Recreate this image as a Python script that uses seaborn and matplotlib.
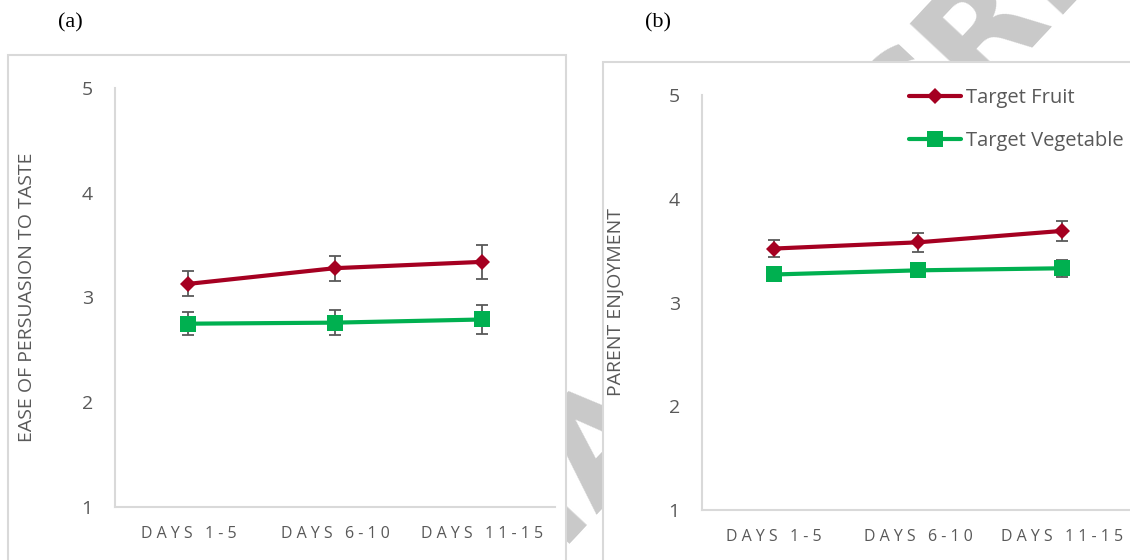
"""
Fruit / vegetable tasting: ease of persuasion and parent enjoyment over days
"""

import pandas as pd
import matplotlib.pyplot as plt
import seaborn as sns
from matplotlib.patches import Rectangle

# data
periods = ["DAYS 1-5", "DAYS 6-10", "DAYS 11-15"]
series = ["Target Fruit", "Target Vegetable"]

ease_fruit = [3.13, 3.28, 3.34]
ease_fruit_err = [0.12, 0.12, 0.16]
ease_veg = [2.75, 2.76, 2.79]
ease_veg_err = [0.11, 0.12, 0.14]

enjoy_fruit = [3.52, 3.58, 3.69]
enjoy_fruit_err = [0.08, 0.09, 0.10]
enjoy_veg = [3.27, 3.31, 3.33]
enjoy_veg_err = [0.04, 0.05, 0.08]

y_ticks = [1, 2, 3, 4, 5]

FRUIT = "#A50021"
VEG = "#00B050"
GREY = "#595959"
FRAME = "#D9D9D9"

sns.set_theme(style="white")
plt.rcParams['font.family'] = ['Open Sans', 'DejaVu Sans']


def spaced(label):
    # Excel-style wide character spacing
    return " ".join(label)


def make_df(fruit, fruit_err, veg, veg_err):
    rows = []
    for name, vals, errs in [(series[0], fruit, fruit_err), (series[1], veg, veg_err)]:
        for p, v, e in zip(periods, vals, errs):
            rows.append({'period': p, 'value': v, 'err': e, 'food': name})
    return pd.DataFrame(rows)


def draw_panel(ax, df, ylabel, label_x):
    styles = {series[0]: ('D', 8.5, FRUIT), series[1]: ('s', 12, VEG)}
    for name in series:
        sub = df[df['food'] == name]
        marker, ms, color = styles[name]
        pos = [periods.index(p) for p in sub['period']]
        ax.errorbar(pos, sub['value'], yerr=sub['err'], fmt='none',
                    ecolor=GREY, elinewidth=1.3, capsize=4, capthick=1.3, zorder=2)
        sns.lineplot(data=sub, x='period', y='value', ax=ax, color=color,
                     marker=marker, markersize=ms, markeredgewidth=0,
                     linewidth=3, label=name, zorder=3, legend=False)

    ax.set_xlim(-0.5, 2.5)
    ax.set_ylim(1, 5)
    ax.set_yticks(y_ticks)
    ax.set_yticklabels([str(t) for t in y_ticks], fontsize=14, color=GREY)
    ax.set_xticks(range(len(periods)))
    ax.set_xticklabels([spaced(p) for p in periods], fontsize=11.5, color=GREY)
    ax.tick_params(axis='y', length=0, pad=16)
    ax.tick_params(axis='x', length=0, pad=14)
    ax.set_xlabel('')
    ax.set_ylabel(ylabel, fontsize=14, color=GREY)
    ax.yaxis.set_label_coords(label_x, 0.5)
    for side in ['top', 'right']:
        ax.spines[side].set_visible(False)
    for side in ['left', 'bottom']:
        ax.spines[side].set_color(FRAME)
        ax.spines[side].set_linewidth(1.5)
    ax.patch.set_visible(False)
    ax.set_zorder(2)


W, H = 1130, 560
fig = plt.figure(figsize=(W / 100, H / 100), dpi=100)


def fx(px):
    return px / W


def fy(py):
    return 1 - py / H


# faint watermark behind the panels
fig.text(fx(530), fy(528), "ACCEPTED MANUSCRIPT", fontsize=104, fontweight='bold',
         color="#C9C9C9", rotation=47, ha='center', va='center',
         rotation_mode='anchor', family='DejaVu Sans', zorder=0.5)

# white chart frames
fig.patches.append(Rectangle((fx(8), fy(575)), fx(566 - 8), fy(55) - fy(575),
                             transform=fig.transFigure, facecolor='white',
                             edgecolor=FRAME, linewidth=1.5, zorder=1))
fig.patches.append(Rectangle((fx(603), fy(575)), fx(1145 - 603), fy(62) - fy(575),
                             transform=fig.transFigure, facecolor='white',
                             edgecolor=FRAME, linewidth=1.5, zorder=1))

ax_a = fig.add_axes([fx(115), fy(507), fx(555 - 115), fy(88) - fy(507)])
ax_b = fig.add_axes([fx(702), fy(510), fx(1134 - 702), fy(95) - fy(510)])

draw_panel(ax_a, make_df(ease_fruit, ease_fruit_err, ease_veg, ease_veg_err),
           "EASE OF PERSUASION TO TASTE", -0.18)
draw_panel(ax_b, make_df(enjoy_fruit, enjoy_fruit_err, enjoy_veg, enjoy_veg_err),
           "PARENT ENJOYMENT", -0.178)

handles, labels = ax_b.get_legend_handles_labels()
leg = ax_b.legend(handles, labels, loc='upper left',
                  bbox_to_anchor=(fx(909), fy(88)), bbox_transform=fig.transFigure,
                  frameon=False, fontsize=14.5, handlelength=2.6, handletextpad=0.25,
                  labelspacing=1.15, borderpad=0, borderaxespad=0)
for t in leg.get_texts():
    t.set_color(GREY)

fig.text(fx(70), fy(23), "(a)", fontsize=16, family='Liberation Serif',
         ha='center', va='center', color='black')
fig.text(fx(658), fy(23), "(b)", fontsize=16, family='Liberation Serif',
         ha='center', va='center', color='black')

plt.savefig('out.png', dpi=100)
plt.close()
